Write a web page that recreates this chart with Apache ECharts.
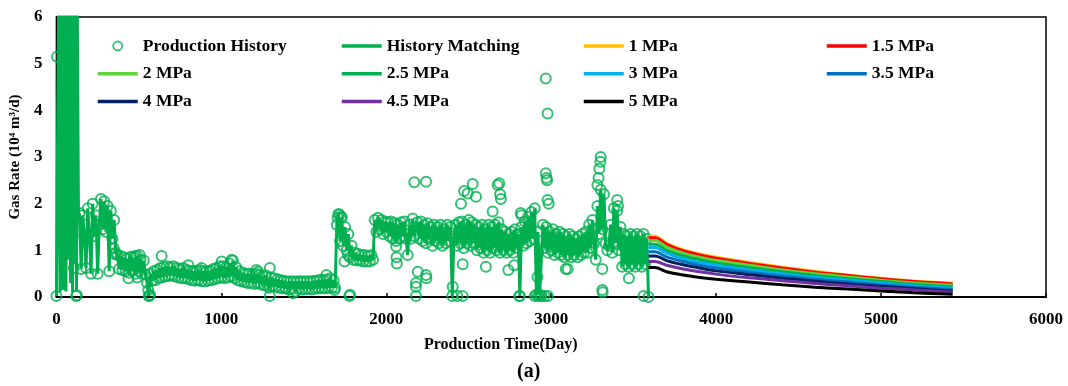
<!DOCTYPE html>
<html>
<head>
<meta charset="utf-8">
<script src="https://cdn.jsdelivr.net/npm/echarts@6/dist/echarts.min.js"></script>
<style>
html,body{margin:0;padding:0;background:#fff;}
#chart{width:1068px;height:386px;}
</style>
</head>
<body>
<div id="chart"></div>
<script>
// ---------- DATA ----------
// Early shut-in / spike period of the history matching line: [day, rate]
const earlyMatchPairs = [
  [0,0.02],[10,0.05],[14,6.5],[18,6.5],[22,0.1],[26,6.5],[34,6.5],[40,0.15],[44,6.5],[52,6.5],
  [58,0.12],[64,6.5],[70,6.5],[74,0.8],[78,6.5],[82,6.5],[86,0.3],[90,6.5],[94,6.5],[98,0.1],
  [102,6.5],[106,6.5],[110,0.7],[114,6.5],[118,6.5],[122,0.15],[126,6.5],[130,6.5],[134,1.7]
];
// Production record sampled every 10 days from day 140
const historyStartDay = 140;
const historyStepDays = 10;
const historyRate = [
  1.8,0.6,1.75,1.3,0.62,1.9,
  1.35,0.5,2.0,1.3,1.75,0.5,1.55,2.1,1.45,2.05,
  1.4,1.95,0.55,1.85,1.25,1.65,0.95,0.9,0.6,0.88,
  0.58,0.85,0.55,0.82,0.52,0.86,0.56,0.84,0.5,0.88,
  0.55,0.8,0.5,0.78,0.48,0.3,0.02,0.5,0.35,0.55,
  0.36,0.58,0.4,0.62,0.42,0.64,0.44,0.66,0.45,0.64,
  0.46,0.66,0.44,0.62,0.42,0.6,0.4,0.62,0.4,0.58,
  0.38,0.56,0.36,0.55,0.35,0.56,0.36,0.58,0.34,0.55,
  0.33,0.55,0.35,0.56,0.36,0.6,0.38,0.62,0.4,0.66,
  0.42,0.66,0.4,0.64,0.42,0.72,0.44,0.78,0.4,0.64,
  0.36,0.55,0.34,0.52,0.32,0.5,0.3,0.5,0.3,0.48,
  0.28,0.5,0.3,0.47,0.27,0.45,0.25,0.46,0.26,0.2,
  0.42,0.24,0.4,0.22,0.38,0.2,0.36,0.19,0.35,0.18,
  0.33,0.16,0.34,0.17,0.33,0.12,0.34,0.17,0.34,0.16,
  0.33,0.17,0.34,0.17,0.33,0.16,0.35,0.18,0.35,0.18,
  0.37,0.19,0.36,0.18,0.37,0.2,0.4,0.2,0.36,0.2,
  1.55,1.78,1.2,1.7,1.1,1.5,1.0,1.35,0.85,1.1,
  0.8,0.95,0.78,0.92,0.78,0.9,0.76,0.9,0.76,0.88,
  0.76,0.9,0.8,1.65,1.4,1.7,1.45,1.65,1.35,1.62,
  1.4,1.6,1.3,1.62,1.25,1.58,1.2,1.55,1.25,1.6,
  1.3,1.62,1.25,0.9,1.55,1.25,1.68,1.3,1.5,1.6,
  1.25,1.62,1.2,1.55,1.15,1.58,1.25,1.5,1.1,1.55,
  1.2,1.5,1.15,1.55,1.1,1.45,1.15,1.55,1.2,1.5,
  0.02,1.25,1.55,1.1,1.6,1.15,1.62,1.05,1.55,1.15,
  1.65,1.1,1.6,1.15,1.55,1.0,1.5,1.05,1.55,0.95,
  1.45,1.0,1.55,0.95,1.5,1.05,1.55,1.0,1.6,0.95,
  1.45,1.0,1.4,0.95,1.35,1.0,1.4,0.95,1.45,1.05,
  1.35,0.02,1.5,1.1,1.62,1.15,1.72,1.2,1.82,1.25,
  1.9,0.05,1.4,0.05,0.02,1.55,1.05,1.5,0.95,1.4,
  1.0,1.45,0.9,1.35,0.95,1.4,0.9,1.35,0.85,1.3,
  0.9,1.35,0.85,1.3,0.9,1.25,0.85,1.3,0.9,1.35,
  0.95,1.4,0.95,1.55,1.05,1.65,1.15,0.8,1.95,1.35,
  2.3,1.45,2.2,1.15,1.0,1.1,1.55,0.95,1.9,1.15,
  1.85,1.0,1.5,0.65,1.35,0.7,1.3,0.65,1.35,0.7,
  1.3,0.65,1.35,0.7,1.3,0.65,1.35,0.7,1.25,0.0
];
// Scattered production measurements away from the main band: [day, rate]
const outlierPoints = [
  [0,0.02],[4,5.15],[106,0.62],[120,0.02],[124,0.04],
  [347,1.05],[352,0.92],[437,0.4],[476,0.88],[490,0.42],[505,0.9],[557,0.15],[562,0.02],[568,0.05],
  [638,0.88],[800,0.68],[880,0.62],[1002,0.76],[1062,0.8],[1213,0.58],[1223,0.54],[1294,0.62],[1294,0.02],
  [1435,0.08],[1637,0.47],[1686,0.15],[1705,1.7],[1717,1.76],[1727,1.72],[1747,0.76],[1768,0.9],[1776,0.02],[1781,0.05],
  [2060,1.08],[2062,0.85],[2064,0.72],[2170,2.46],[2241,2.47],[2191,0.54],[2241,0.47],[2243,0.4],
  [2180,0.3],[2180,0.22],[2180,0.02],[2403,0.22],[2430,0.02],[2463,0.02],[2453,2.0],[2472,2.27],[2494,2.22],
  [2524,2.42],[2544,2.15],[2604,0.65],[2463,0.7],[2645,1.83],[2675,2.4],[2685,2.44],[2690,2.2],[2695,2.1],
  [2740,0.58],[2775,0.68],[2806,0.02],[2815,1.8],[2820,1.75],[2900,0.02],[2917,0.43],[2920,0.02],[2940,0.02],
  [2960,0.02],[2967,4.68],[2978,3.93],[2967,2.65],[2972,2.55],[2975,2.5],[2978,2.08],[2985,2.0],[2980,0.02],
  [3088,0.6],[3100,0.6],[3280,2.4],[3287,2.55],[3292,2.75],[3298,2.9],[3300,3.0],[3310,0.6],[3310,0.15],
  [3312,0.1],[3400,2.08],[3405,1.95],[3471,0.4],[3560,0.02]
];
// Forecast under different abandonment pressures
const forecastDays = [3590,3630,3700,3800,3900,4000,4200,4400,4600,4800,5000,5200,5434];
const rate1MPa   = [1.30,1.30,1.15,1.01,0.92,0.85,0.74,0.64,0.55,0.47,0.40,0.34,0.30];
const rate1_5MPa = [1.27,1.27,1.13,0.99,0.90,0.83,0.72,0.62,0.53,0.46,0.39,0.33,0.28];
const rate2MPa   = [1.21,1.21,1.07,0.94,0.85,0.78,0.68,0.58,0.50,0.43,0.36,0.30,0.25];
const rate2_5MPa = [1.13,1.13,1.00,0.88,0.80,0.73,0.63,0.54,0.46,0.39,0.33,0.27,0.22];
const rate3MPa   = [1.06,1.06,0.94,0.82,0.74,0.68,0.58,0.50,0.42,0.36,0.30,0.24,0.19];
const rate3_5MPa = [0.97,0.97,0.86,0.76,0.68,0.62,0.53,0.45,0.38,0.32,0.26,0.21,0.16];
const rate4MPa   = [0.88,0.88,0.78,0.69,0.62,0.56,0.48,0.40,0.34,0.28,0.23,0.18,0.13];
const rate4_5MPa = [0.76,0.76,0.68,0.60,0.54,0.49,0.41,0.35,0.29,0.24,0.19,0.15,0.10];
const rate5MPa   = [0.63,0.63,0.54,0.47,0.42,0.38,0.32,0.26,0.21,0.17,0.13,0.09,0.06];

const xTicks = [0,1000,2000,3000,4000,5000,6000];
const yTicks = [0,1,2,3,4,5,6];

// ---------- BUILD ----------
const FONT = '"Liberation Serif","Times New Roman",serif';
const GREEN = '#00B050';
const historyPairs = historyRate.map((v,i)=>[historyStartDay + i*historyStepDays, v]);
const matchPairs = earlyMatchPairs.concat(historyPairs);
const scatterPairs = historyPairs.concat(outlierPoints);

const forecasts = [
  ['1 MPa', rate1MPa, '#FFC000'],
  ['1.5 MPa', rate1_5MPa, '#FF0000'],
  ['2 MPa', rate2MPa, '#5FD43A'],
  ['2.5 MPa', rate2_5MPa, '#00B050'],
  ['3 MPa', rate3MPa, '#00B0F0'],
  ['3.5 MPa', rate3_5MPa, '#0070C0'],
  ['4 MPa', rate4MPa, '#002060'],
  ['4.5 MPa', rate4_5MPa, '#7030A0'],
  ['5 MPa', rate5MPa, '#000000']
];

const series = [
  {name:'History Matching', type:'line', data:matchPairs, symbol:'none', clip:true,
   lineStyle:{color:GREEN, width:3}, itemStyle:{color:GREEN}, z:2},
  {name:'Production History', type:'scatter', data:scatterPairs, symbol:'circle', symbolSize:10, clip:true,
   itemStyle:{color:'rgba(0,0,0,0)', borderColor:GREEN, borderWidth:2}, z:3}
];
forecasts.forEach(([name, vals, color], k)=>{
  series.push({name, type:'line', symbol:'none', smooth:0.3, clip:true,
    data: forecastDays.map((d,i)=>[d, vals[i]]),
    lineStyle:{color, width:3}, itemStyle:{color}, z:4+k});
});

function legendCol(names, left){
  return {
    data:names.map(n => n === 'Production History'
      ? {name:n, itemStyle:{borderWidth:1.8}}
      : {name:n, itemStyle:{opacity:0}, lineStyle:{width:3.5}}),
    orient:'vertical', left, top:37, itemWidth:40, itemHeight:9, itemGap:9.7, padding:0,
    selectedMode:false,
    textStyle:{fontFamily:FONT, fontWeight:'bold', fontSize:17.5, color:'#000', lineHeight:18}};
}

const chart = echarts.init(document.getElementById('chart'), null, {renderer:'canvas'});
chart.setOption({
  animation:false,
  backgroundColor:'#fff',
  grid:{left:54, right:22, top:17, bottom:89, show:true, borderColor:'#000', borderWidth:1.5, backgroundColor:'transparent'},
  legend:[
    legendCol(['Production History','2 MPa','4 MPa'], 96),
    legendCol(['History Matching','2.5 MPa','4.5 MPa'], 340),
    legendCol(['1 MPa','3 MPa','5 MPa'], 582),
    legendCol(['1.5 MPa','3.5 MPa'], 825)
  ],
  xAxis:{type:'value', min:xTicks[0], max:xTicks[xTicks.length-1], interval:1000,
    axisLine:{show:true, onZero:false, lineStyle:{color:'#000', width:2}},
    axisTick:{show:true, inside:true, length:4, lineStyle:{color:'#000', width:1.5}},
    axisLabel:{color:'#000', fontFamily:FONT, fontWeight:'bold', fontSize:17, margin:14,
      formatter: v => String(v)},
    splitLine:{show:false}},
  yAxis:{type:'value', min:yTicks[0], max:yTicks[yTicks.length-1], interval:1,
    name:'Gas Rate (10⁴ m³/d)', nameLocation:'middle', nameGap:27,
    nameTextStyle:{color:'#000', fontFamily:FONT, fontWeight:'bold', fontSize:15},
    axisLine:{show:true, onZero:false, lineStyle:{color:'#000', width:2}},
    axisTick:{show:true, inside:true, length:4, lineStyle:{color:'#000', width:1.5}},
    axisLabel:{color:'#000', fontFamily:FONT, fontWeight:'bold', fontSize:17, margin:14,
      formatter: v => String(v)},
    splitLine:{show:false}},
  graphic:[
    {type:'text', left:424, top:337, style:{text:'Production Time(Day)', fontFamily:FONT, fontWeight:'bold', fontSize:16, fill:'#000'}},
    {type:'text', left:517, top:362, style:{text:'(a)', fontFamily:FONT, fontWeight:'bold', fontSize:20, fill:'#000'}}
  ],
  series
});
</script>
</body>
</html>
